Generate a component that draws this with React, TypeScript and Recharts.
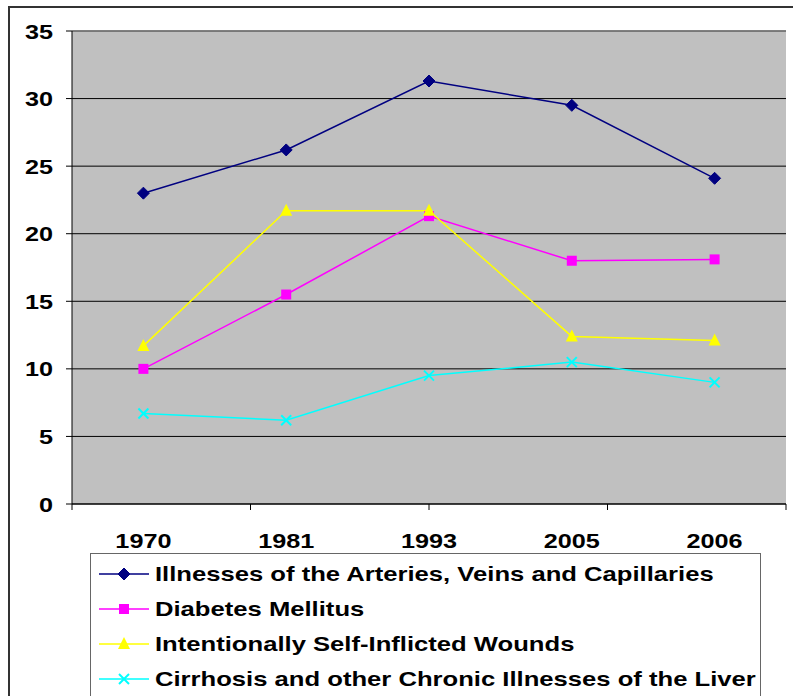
import React from "react";
import {
  CartesianGrid,
  Line,
  LineChart,
  ReferenceLine,
  XAxis,
  YAxis,
} from "recharts";

const years = ["1970", "1981", "1993", "2005", "2006"];
const arteries = [23.0, 26.2, 31.3, 29.5, 24.1];
const diabetes = [10.0, 15.5, 21.3, 18.0, 18.1];
const selfInflicted = [11.7, 21.7, 21.7, 12.4, 12.1];
const cirrhosis = [6.7, 6.2, 9.5, 10.5, 9.0];
const seriesNames = [
  "Illnesses of the Arteries, Veins and Capillaries",
  "Diabetes Mellitus",
  "Intentionally Self-Inflicted Wounds",
  "Cirrhosis and other Chronic Illnesses of the Liver",
];
const yTicks = [0, 5, 10, 15, 20, 25, 30, 35];
const bandEdges = [0, 1, 2, 3, 4, 5];

const FONT = '"Liberation Sans", Arial, sans-serif';

type MarkerKind = "diamond" | "square" | "triangle" | "cross";

const series: { key: string; color: string; marker: MarkerKind }[] = [
  { key: "arteries", color: "#000080", marker: "diamond" },
  { key: "diabetes", color: "#FF00FF", marker: "square" },
  { key: "selfInflicted", color: "#FFFF00", marker: "triangle" },
  { key: "cirrhosis", color: "#00FFFF", marker: "cross" },
];

const chartData = years.map((year, i) => ({
  year,
  arteries: arteries[i],
  diabetes: diabetes[i],
  selfInflicted: selfInflicted[i],
  cirrhosis: cirrhosis[i],
}));

function Marker({ kind, cx, cy, color }: { kind: MarkerKind; cx: number; cy: number; color: string }) {
  if (kind === "diamond") {
    return (
      <polygon
        points={`${cx},${cy - 6} ${cx + 6},${cy} ${cx},${cy + 6} ${cx - 6},${cy}`}
        fill={color}
        stroke={color}
      />
    );
  }
  if (kind === "square") {
    return <rect x={cx - 5} y={cy - 5} width={10} height={10} fill={color} />;
  }
  if (kind === "triangle") {
    return (
      <polygon
        points={`${cx},${cy - 7} ${cx + 6},${cy + 5} ${cx - 6},${cy + 5}`}
        fill={color}
      />
    );
  }
  return (
    <g stroke={color} strokeWidth={2}>
      <line x1={cx - 5} y1={cy - 5} x2={cx + 5} y2={cy + 5} />
      <line x1={cx - 5} y1={cy + 5} x2={cx + 5} y2={cy - 5} />
    </g>
  );
}

function makeDot(kind: MarkerKind, color: string) {
  return (props: any) => {
    const { cx, cy, index } = props;
    if (cx == null || cy == null) return <g key={`d-${index}`} />;
    return (
      <g key={`d-${index}`}>
        <Marker kind={kind} cx={cx} cy={cy} color={color} />
      </g>
    );
  };
}

function EmptyTick() {
  return <g />;
}

function YTick(props: any) {
  const { x, y, payload } = props;
  return (
    <g transform={`translate(${x},${y})`}>
      <text
        transform="scale(1.2,1)"
        textAnchor="end"
        dy="0.36em"
        fill="#000"
        fontFamily={FONT}
        fontWeight="bold"
        fontSize={21}
      >
        {payload.value}
      </text>
    </g>
  );
}

function XTick(props: any) {
  const { x, y, payload } = props;
  return (
    <g transform={`translate(${x},${y})`}>
      <text
        transform="scale(1.2,1)"
        textAnchor="middle"
        dy={16}
        fill="#000"
        fontFamily={FONT}
        fontWeight="bold"
        fontSize={21}
      >
        {payload.value}
      </text>
    </g>
  );
}

function LegendBox() {
  return (
    <div
      style={{
        position: "absolute",
        left: 90,
        top: 553,
        width: 671,
        height: 200,
        border: "1px solid #666",
        background: "#fff",
        paddingTop: 2,
        boxSizing: "border-box",
      }}
    >
      {series.map((s, i) => (
        <div
          key={s.key}
          style={{ height: 35, display: "flex", alignItems: "center" }}
        >
          <svg width={50} height={20} style={{ marginLeft: 8, flex: "none" }}>
            <line x1={0} y1={10} x2={50} y2={10} stroke={s.color} strokeWidth={1.5} />
            <Marker kind={s.marker} cx={25} cy={10} color={s.color} />
          </svg>
          <span
            style={{
              marginLeft: 6,
              display: "inline-block",
              whiteSpace: "nowrap",
              fontFamily: FONT,
              fontWeight: "bold",
              fontSize: 21,
              transform: "scaleX(1.22)",
              transformOrigin: "left center",
              color: "#000",
            }}
          >
            {seriesNames[i]}
          </span>
        </div>
      ))}
    </div>
  );
}

export default function App() {
  return (
    <div
      style={{
        position: "absolute",
        left: 0,
        top: 0,
        width: 793,
        height: 696,
        overflow: "hidden",
        background: "#fff",
      }}
    >
      <div
        style={{
          position: "absolute",
          left: 8,
          top: 6,
          width: 900,
          height: 900,
          borderLeft: "2px solid #333",
          borderTop: "2px solid #333",
        }}
      />
      <div style={{ position: "absolute", left: 0, top: 0 }}>
        <LineChart
          width={793}
          height={696}
          data={chartData}
          margin={{ top: 31, right: 7, bottom: 135, left: 0 }}
        >
          <CartesianGrid
            vertical={false}
            horizontal
            fill="#C0C0C0"
            stroke="#000"
            xAxisId="b"
          />
          <XAxis
            xAxisId="b"
            dataKey="year"
            scale="band"
            axisLine={false}
            tickLine={false}
            tickSize={0}
            tickMargin={21}
            height={50}
            interval={0}
            tick={<XTick />}
          />
          <XAxis
            xAxisId="a"
            type="number"
            domain={[0, 5]}
            ticks={bandEdges}
            interval={0}
            allowDataOverflow
            tick={<EmptyTick />}
            tickLine={{ stroke: "#000" }}
            tickSize={6}
            height={7}
            stroke="#000"
          />
          <YAxis
            domain={[0, 35]}
            ticks={yTicks}
            interval={0}
            width={72}
            tickSize={6}
            tickMargin={13}
            stroke="#000"
            tick={<YTick />}
          />
          <ReferenceLine y={35} xAxisId="b" stroke="#808080" strokeWidth={1.5} />
          <ReferenceLine x={5} xAxisId="a" stroke="#808080" strokeWidth={1.5} />
          {series.map((s) => (
            <Line
              key={s.key}
              xAxisId="b"
              dataKey={s.key}
              stroke={s.color}
              strokeWidth={1.5}
              dot={makeDot(s.marker, s.color)}
              activeDot={false}
              isAnimationActive={false}
            />
          ))}
        </LineChart>
      </div>
      <LegendBox />
    </div>
  );
}
